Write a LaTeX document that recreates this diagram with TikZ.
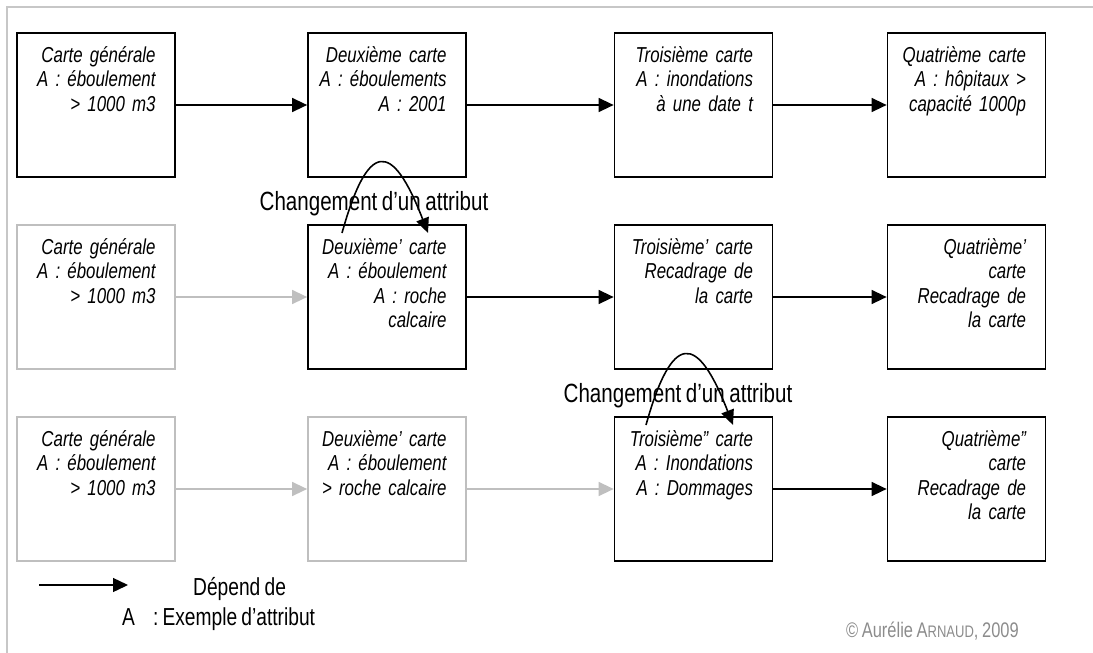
\documentclass[tikz,border=0pt]{standalone}
\usepackage{fontspec}
\setmainfont{Liberation Sans}
\newfontfamily\narrowfont[FakeStretch=0.78,WordSpace=0.8]{Liberation Sans}
\usetikzlibrary{arrows.meta}

\begin{document}
\begin{tikzpicture}[x=0.02cm,y=-0.02cm,
carte/.style={draw,line width=1pt,minimum width=3.16cm,minimum height=2.88cm,inner sep=0pt},
carte grise/.style={carte,draw=black!25},
carte texte/.style={anchor=base east,xshift=-0.4cm,yshift=-0.6cm,inner sep=0pt,text width=3cm,align=right,font=\narrowfont\itshape\fontsize{12.3}{14}\selectfont},
flow/.style={-{Triangle[length=3mm,width=2.8mm]},line width=0.8pt},
flow grise/.style={flow,draw=black!25},
change/.style={-{Triangle[length=3mm,width=2.6mm]},line width=0.9pt},
change label/.style={anchor=base,font=\narrowfont\fontsize{15}{18}\selectfont},
legende/.style={anchor=base west,font=\narrowfont\fontsize{14}{17}\selectfont}]
\useasboundingbox (0,0) rectangle (1093,653);
\draw[black!22,line width=1pt] (7,653) -- (7,7) -- (1093,7);
\node[carte] (gen1) at (96,105) {};
\node[carte] (deux1) at (387,105) {};
\node[carte] (trois1) at (693.5,105) {};
\node[carte] (quat1) at (966.5,105) {};
\node[carte grise] (gen2) at (96,297) {};
\node[carte] (deux2) at (387,297) {};
\node[carte] (trois2) at (693.5,297) {};
\node[carte] (quat2) at (966.5,297) {};
\node[carte grise] (gen3) at (96,489) {};
\node[carte grise] (deux3) at (387,489) {};
\node[carte] (trois3) at (693.5,489) {};
\node[carte] (quat3) at (966.5,489) {};
\node[carte texte] (gen1t) at (gen1.north east) {Carte générale\\A : éboulement\\> 1000 m3};
\node[carte texte] (deux1t) at (deux1.north east) {Deuxième carte\\A : éboulements\\A : 2001};
\node[carte texte] (trois1t) at (trois1.north east) {Troisième carte\\A : inondations\\à une date t};
\node[carte texte] (quat1t) at (quat1.north east) {Quatrième carte\\A : hôpitaux >\\capacité 1000p};
\node[carte texte] (gen2t) at (gen2.north east) {Carte générale\\A : éboulement\\> 1000 m3};
\node[carte texte] (deux2t) at (deux2.north east) {Deuxième’ carte\\A : éboulement\\A : roche\\calcaire};
\node[carte texte] (trois2t) at (trois2.north east) {Troisième’ carte\\Recadrage de\\la carte};
\node[carte texte] (quat2t) at (quat2.north east) {Quatrième’\\carte\\Recadrage de\\la carte};
\node[carte texte] (gen3t) at (gen3.north east) {Carte générale\\A : éboulement\\> 1000 m3};
\node[carte texte] (deux3t) at (deux3.north east) {Deuxième’ carte\\A : éboulement\\> roche calcaire};
\node[carte texte] (trois3t) at (trois3.north east) {Troisième” carte\\A : Inondations\\A : Dommages};
\node[carte texte] (quat3t) at (quat3.north east) {Quatrième”\\carte\\Recadrage de\\la carte};
\draw[flow] (gen1) -- (deux1);
\draw[flow] (deux1) -- (trois1);
\draw[flow] (trois1) -- (quat1);
\draw[flow grise] (gen2) -- (deux2);
\draw[flow] (deux2) -- (trois2);
\draw[flow] (trois2) -- (quat2);
\draw[flow grise] (gen3) -- (deux3);
\draw[flow grise] (deux3) -- (trois3);
\draw[flow] (trois3) -- (quat3);
\node[change label] (chg1) at (374,210) {Changement d’un attribut};
\node[change label] (chg2) at (678,402) {Changement d’un attribut};
\coordinate (chg1a) at (342,233);
\coordinate (chg1b) at (428,233);
\coordinate (chg2a) at (646,425);
\coordinate (chg2b) at (733,425);
\draw[change] (chg1a) .. controls (368,140) and (392,140) .. (chg1b);
\draw[change] (chg2a) .. controls (672,332) and (697,332) .. (chg2b);
\coordinate (leg1) at (39,585);
\coordinate (leg2) at (128,585);
\draw[flow] (leg1) -- (leg2);
\node[legende] (dep) at (187,595) {Dépend de};
\node[legende] (attr) at (116,625) {A\hspace{0.36cm}: Exemple d’attribut};
\node[anchor=base east,text=black!45,font=\narrowfont\fontsize{12}{14}\selectfont] (copy) at (1025,637) {© Aurélie A{\fontsize{9.5}{14}\selectfont RNAUD}, 2009};
\end{tikzpicture}
\end{document}
